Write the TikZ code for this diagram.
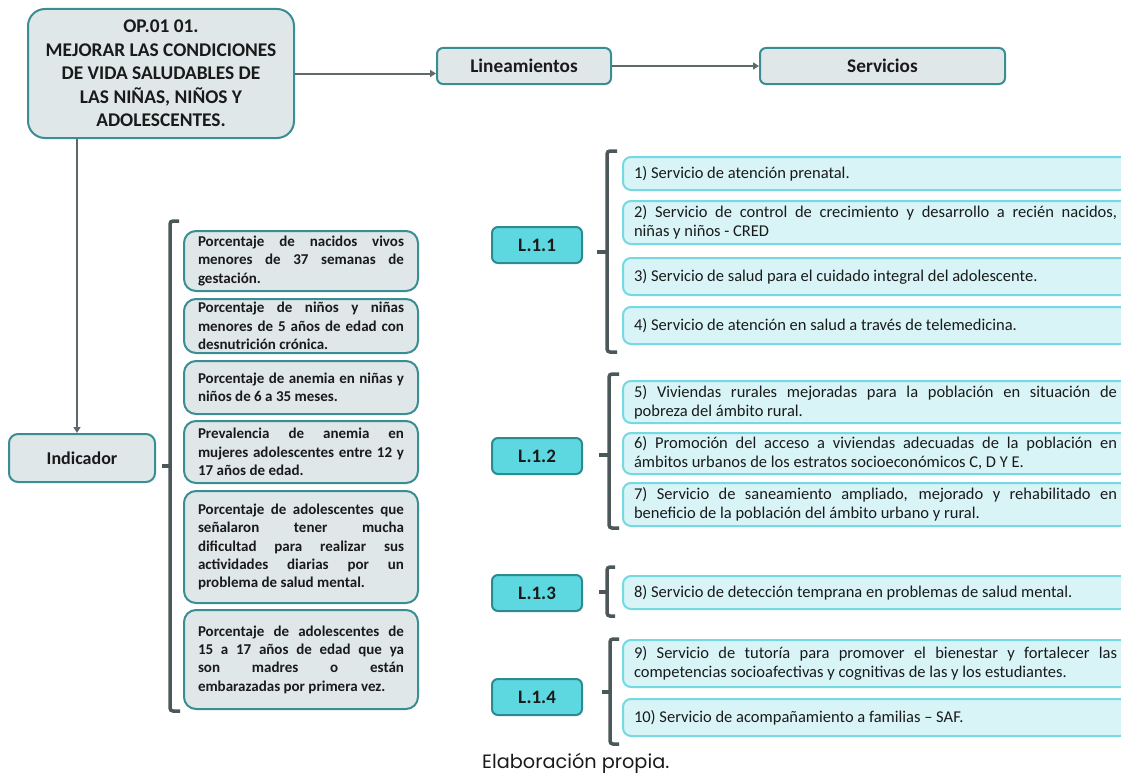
\documentclass[tikz,border=0pt]{standalone}
\usepackage{fontspec}
\setmainfont{Carlito}
\newfontfamily\capfont{Poppins}
\usetikzlibrary{arrows.meta}
\definecolor{greyf}{HTML}{DFE7E9}
\definecolor{tealb}{HTML}{3A8D92}
\definecolor{lfill}{HTML}{5ED8E0}
\definecolor{lborder}{HTML}{2C8A90}
\definecolor{sfill}{HTML}{D8F4F7}
\definecolor{sborder}{HTML}{74D9E3}
\definecolor{connc}{HTML}{5C6A6C}
\definecolor{brkc}{HTML}{4B5759}
\definecolor{textc}{HTML}{1A1A1A}
\begin{document}
\begin{tikzpicture}[x=1pt,y=-1pt,
  every node/.style={text=textc},
  gbox/.style={draw=tealb, fill=greyf, line width=2pt, rounded corners=10pt,
    anchor=north west, align=center, inner sep=0pt},
  ibox/.style={draw=tealb, fill=greyf, line width=2pt, rounded corners=12pt,
    anchor=north west, align=justify, inner xsep=14pt, inner ysep=0pt, text width=206pt,
    font=\fontsize{15}{18.3}\selectfont\bfseries},
  lbox/.style={draw=lborder, fill=lfill, line width=2pt, rounded corners=6pt,
    anchor=north west, minimum width=90pt, minimum height=36pt, inner sep=0pt,
    font=\fontsize{19}{22}\selectfont\bfseries},
  sbox/.style={draw=sborder, fill=sfill, line width=2pt, rounded corners=8pt,
    anchor=north west, align=justify, inner xsep=11pt, inner ysep=0pt, text width=483pt,
    font=\fontsize{16.5}{19}\selectfont},
  conn/.style={draw=connc, line width=2pt, -{Triangle[width=7pt,length=6pt]}},
  brk/.style={draw=brkc, line width=3.5pt, rounded corners=3pt}
]
\useasboundingbox (0,0) rectangle (1121,776);
\clip (0,0) rectangle (1121,776);

% top row
\node[gbox, rounded corners=17pt, minimum width=266pt, minimum height=129pt,
  font=\fontsize{19.4}{23.6}\selectfont\bfseries] (op) at (27,8)
  {OP.01 01.\\ MEJORAR LAS CONDICIONES\\ DE VIDA SALUDABLES DE\\ LAS NIÑAS, NIÑOS Y\\ ADOLESCENTES.};
\node[gbox, rounded corners=6pt, minimum width=174pt, minimum height=36pt,
  font=\fontsize{19.3}{22}\selectfont\bfseries] (lin) at (436,47) {Lineamientos};
\node[gbox, rounded corners=6pt, minimum width=245pt, minimum height=36pt,
  font=\fontsize{19.3}{22}\selectfont\bfseries] (serv) at (759,47) {Servicios};
\node[gbox, rounded corners=9pt, minimum width=146pt, minimum height=48pt,
  font=\fontsize{18}{22}\selectfont\bfseries] (ind) at (8,433) {Indicador};

\draw[conn] (op.east) -- (op.east -| lin.west);
\draw[conn] (lin.east) -- (serv.west);
\draw[conn] ([xshift=-5pt]ind.north |- op.south) -- ([xshift=-5pt]ind.north);

% indicators
\node[ibox, minimum height=60pt] (i1) at (183,230)
  {Porcentaje de nacidos vivos\linebreak menores de 37 semanas de\linebreak gestación.};
\node[ibox, minimum height=54pt] (i2) at (183,298)
  {Porcentaje de niños y niñas\linebreak menores de 5 años de edad con\linebreak desnutrición crónica.};
\node[ibox, minimum height=53pt] (i3) at (183,360)
  {Porcentaje de anemia en niñas y\linebreak niños de 6 a 35 meses.};
\node[ibox, minimum height=62pt] (i4) at (183,420)
  {Prevalencia de anemia en\linebreak mujeres adolescentes entre 12 y\linebreak 17 años de edad.};
\node[ibox, minimum height=112pt] (i5) at (183,490)
  {Porcentaje de adolescentes que\linebreak señalaron tener mucha\linebreak dificultad para realizar sus\linebreak actividades diarias por un\linebreak problema de salud mental.};
\node[ibox, minimum height=99pt] (i6) at (183,609)
  {Porcentaje de adolescentes de\linebreak 15 a 17 años de edad que ya\linebreak son madres o están\linebreak embarazadas por primera vez.};

\draw[brk] (179,221) -- (170,221) -- (170,711) -- (180,711);
\draw[brk] (170,466) -- (162,466);

% lineamientos
\node[lbox] (l1) at (491,226) {L.1.1};
\node[lbox] (l2) at (491,437) {L.1.2};
\node[lbox] (l3) at (491,574) {L.1.3};
\node[lbox] (l4) at (491,678) {L.1.4};

% services
\node[sbox, minimum height=33pt] (s1) at (622,156) {1) Servicio de atención prenatal.};
\node[sbox, minimum height=43pt] (s2) at (622,200)
  {2) Servicio de control de crecimiento y desarrollo a recién nacidos,\linebreak niñas y niños - CRED};
\node[sbox, minimum height=37pt] (s3) at (622,257) {3) Servicio de salud para el cuidado integral del adolescente.};
\node[sbox, minimum height=37pt] (s4) at (622,306) {4) Servicio de atención en salud a través de telemedicina.};
\node[sbox, minimum height=42pt] (s5) at (622,380)
  {5) Viviendas rurales mejoradas para la población en situación de\linebreak pobreza del ámbito rural.};
\node[sbox, minimum height=41pt] (s6) at (622,432)
  {6) Promoción del acceso a viviendas adecuadas de la población en\linebreak ámbitos urbanos de los estratos socioeconómicos C, D Y E.};
\node[sbox, minimum height=43pt] (s7) at (622,482)
  {7) Servicio de saneamiento ampliado, mejorado y rehabilitado en\linebreak beneficio de la población del ámbito urbano y rural.};
\node[sbox, minimum height=33pt] (s8) at (622,575) {8) Servicio de detección temprana en problemas de salud mental.};
\node[sbox, minimum height=47pt] (s9) at (622,639)
  {9) Servicio de tutoría para promover el bienestar y fortalecer las\linebreak competencias socioafectivas y cognitivas de las y los estudiantes.};
\node[sbox, minimum height=37pt] (s10) at (622,698) {10) Servicio de acompañamiento a familias – SAF.};

% brackets
\draw[brk] (617,151) -- (607,151) -- (607,352) -- (617,352);
\draw[brk] (607,252) -- (597,252);
\draw[brk] (619,374) -- (609,374) -- (609,528) -- (619,528);
\draw[brk] (609,455) -- (599,455);
\draw[brk] (615,567) -- (607,567) -- (607,616) -- (615,616);
\draw[brk] (607,592) -- (599,592);
\draw[brk] (619,639) -- (610,639) -- (610,744) -- (619,744);
\draw[brk] (610,692) -- (602,692);

% caption
\node[anchor=base west, inner sep=0pt, font=\capfont\fontsize{19.3}{22}\selectfont] (cap) at (482,768) {Elaboración propia.};
\end{tikzpicture}
\end{document}
